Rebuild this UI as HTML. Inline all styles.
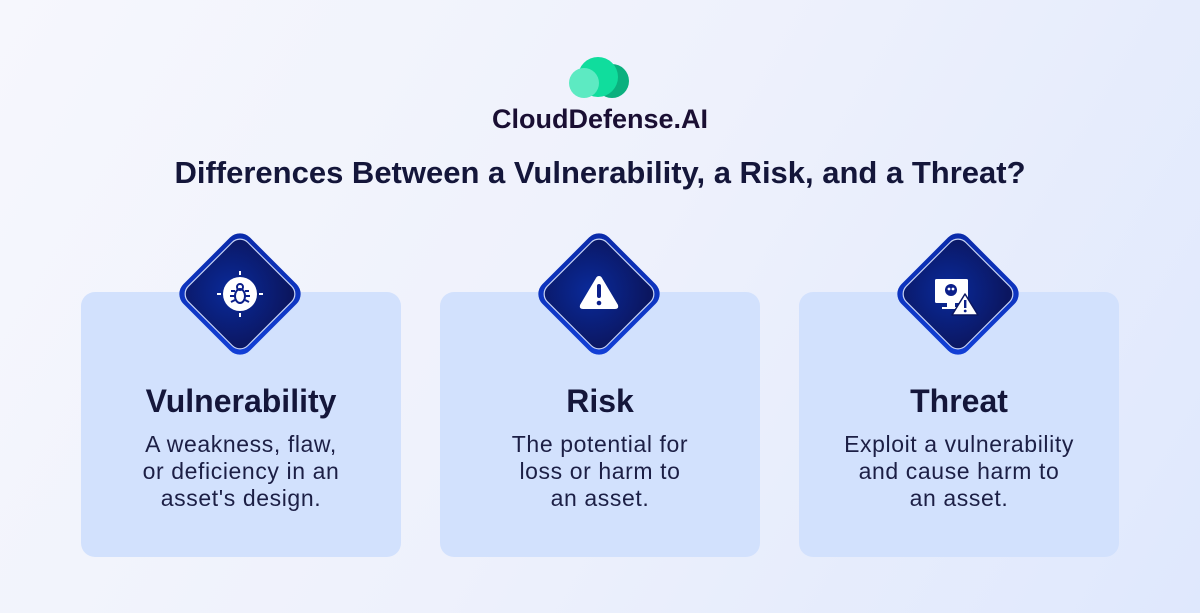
<!DOCTYPE html>
<html><head><meta charset="utf-8"><style>
*{margin:0;padding:0;box-sizing:border-box}
body{width:1200px;height:613px;overflow:hidden;position:relative;font-family:"Liberation Sans",sans-serif;color:#14163a;
background:linear-gradient(120deg,#f6f7fd 0%,#eef1fc 50%,#dfe8fd 100%)}
.abs{position:absolute}
.card{position:absolute;top:292px;width:320px;height:265px;background:#d2e1fd;border-radius:14px}
.t{position:absolute;left:0;width:100%;text-align:center;top:91px;font-size:32px;font-weight:bold;color:#14163a}
.b{position:absolute;left:0;width:100%;text-align:center;top:139px;font-size:23px;line-height:27px;color:#1c1f45;letter-spacing:0.6px}
.dia{position:absolute;top:233px;width:122px;height:122px;overflow:visible}
</style></head><body>
<svg class="abs" style="left:0;top:0" width="1200" height="613">
<circle cx="612" cy="81" r="17" fill="#0bb07e"/>
<circle cx="598" cy="77" r="20" fill="#10dd9d"/>
<circle cx="584" cy="83" r="15" fill="#5deac2"/>
</svg>
<div class="abs" style="left:0;width:1200px;top:104px;text-align:center;font-size:27px;font-weight:bold;color:#1a0f33">CloudDefense.AI</div>
<div class="abs" style="left:0;width:1200px;top:155px;text-align:center;font-size:31px;font-weight:bold;color:#14163a">Differences Between a Vulnerability, a Risk, and a Threat?</div>

<div class="card" style="left:81px"><div class="t">Vulnerability</div><div class="b">A weakness, flaw,<br>or deficiency in an<br>asset's design.</div></div>
<div class="card" style="left:440px"><div class="t">Risk</div><div class="b">The potential for<br>loss or harm to<br>an asset.</div></div>
<div class="card" style="left:799px"><div class="t">Threat</div><div class="b">Exploit a vulnerability<br>and cause harm to<br>an asset.</div></div>

<svg width="0" height="0" style="position:absolute"><defs>
<radialGradient id="g" cx="0.4" cy="0.55" r="0.7"><stop offset="0" stop-color="#0a2a9a"/><stop offset="1" stop-color="#0b1660"/></radialGradient>
<linearGradient id="o" x1="0" y1="0" x2="1" y2="1"><stop offset="0" stop-color="#0a2aa8"/><stop offset="1" stop-color="#1240d8"/></linearGradient>
</defs></svg>

<svg class="dia" style="left:179px" viewBox="0 0 122 122">
<rect x="14" y="14" width="94" height="94" rx="14" transform="rotate(45 61 61)" fill="url(#o)"/>
<rect x="19" y="19" width="84" height="84" rx="11" transform="rotate(45 61 61)" fill="url(#g)" stroke="#c8d4f5" stroke-width="1.2"/>
<circle cx="61" cy="61" r="17" fill="#fff"/>
<g stroke="#fff" stroke-width="2"><line x1="61" y1="38" x2="61" y2="42"/><line x1="61" y1="80" x2="61" y2="84"/><line x1="38" y1="61" x2="42" y2="61"/><line x1="80" y1="61" x2="84" y2="61"/></g>
<g stroke="#0b1f8a" stroke-width="2" fill="none"><ellipse cx="61" cy="63" rx="5" ry="7"/><circle cx="61" cy="54" r="3"/><path d="M52 58h4M66 58h4M51 63h5M66 63h5M52 69l4-2M70 69l-4-2"/></g>
</svg>
<svg class="dia" style="left:538px" viewBox="0 0 122 122">
<rect x="14" y="14" width="94" height="94" rx="14" transform="rotate(45 61 61)" fill="url(#o)"/>
<rect x="19" y="19" width="84" height="84" rx="11" transform="rotate(45 61 61)" fill="url(#g)" stroke="#c8d4f5" stroke-width="1.2"/>
<path d="M61 43 Q63 43 64 45 L80 72 Q81 76 77 76 H45 Q41 76 42 72 L58 45 Q59 43 61 43Z" fill="#fff"/>
<rect x="59" y="51" width="4" height="14" rx="2" fill="#0b1f8a"/><circle cx="61" cy="70" r="2.3" fill="#0b1f8a"/>
</svg>
<svg class="dia" style="left:897px" viewBox="0 0 122 122">
<rect x="14" y="14" width="94" height="94" rx="14" transform="rotate(45 61 61)" fill="url(#o)"/>
<rect x="19" y="19" width="84" height="84" rx="11" transform="rotate(45 61 61)" fill="url(#g)" stroke="#c8d4f5" stroke-width="1.2"/>
<rect x="38" y="46" width="33" height="24" rx="1.5" fill="#fff"/>
<rect x="50" y="70" width="8" height="4" fill="#fff"/><rect x="45" y="74" width="18" height="2" fill="#fff"/>
<circle cx="54" cy="57" r="6" fill="#0b1f8a"/><circle cx="52" cy="56" r="1.4" fill="#fff"/><circle cx="56" cy="56" r="1.4" fill="#fff"/>
<path d="M68 61 L81 82 H55Z" fill="#fff" stroke="#0b1660" stroke-width="1.5" stroke-linejoin="round"/>
<rect x="67" y="67" width="2.4" height="8" fill="#0b1f8a"/><circle cx="68.2" cy="78" r="1.4" fill="#0b1f8a"/>
</svg>
</body></html>
